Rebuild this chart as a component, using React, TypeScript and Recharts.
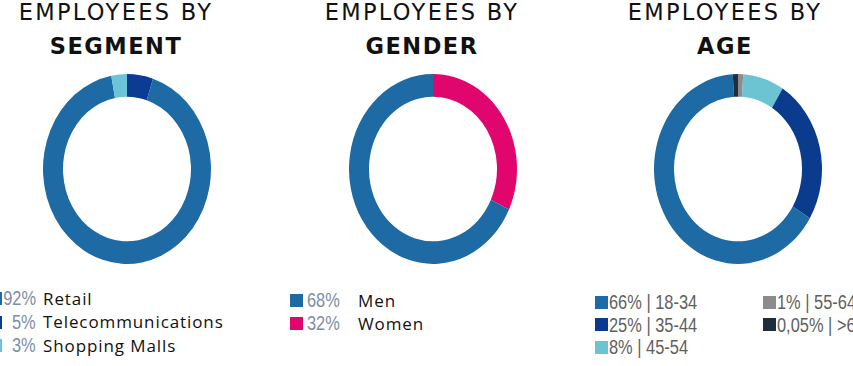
import React from "react";
import { PieChart, Pie, Cell } from "recharts";

const segmentNames = ["Retail", "Telecommunications", "Shopping Malls"];
const segmentValues = [92, 5, 3];
const segmentLabels = ["92%", "5%", "3%"];
const segmentColors = ["#1d6aa5", "#0b3b93", "#6cc4d8"];
const segmentDrawOrder = [1, 0, 2];

const genderNames = ["Men", "Women"];
const genderValues = [68, 32];
const genderLabels = ["68%", "32%"];
const genderColors = ["#1d6aa5", "#e0066e"];
const genderDrawOrder = [1, 0];

const ageNames = ["18-34", "35-44", "45-54", "55-64", ">65"];
const ageValues = [66, 25, 8, 1, 1];
const ageLabels = ["66%", "25%", "8%", "1%", "0,05%"];
const ageColors = ["#1d6aa5", "#0b3b8c", "#6cc4d2", "#8c8c8c", "#1f2e3c"];
const ageDrawOrder = [3, 2, 1, 0, 4];

const titleFont = "'DejaVu Sans', sans-serif";
const labelFont = "'Open Sans', sans-serif";
const pctFont = "'Liberation Sans', Arial, sans-serif";

function Donut({ names, values, colors, order, cx, cy }: any) {
  const data = order.map((i: number) => ({ name: names[i], value: values[i], color: colors[i] }));
  return (
    <div
      style={{
        position: "absolute",
        left: cx - 90,
        top: cy - 90,
        width: 180,
        height: 180,
        transform: "scaleY(1.13)",
        transformOrigin: "center",
      }}
    >
      <PieChart width={180} height={180} margin={{ top: 0, right: 0, bottom: 0, left: 0 }}>
        <Pie
          data={data}
          dataKey="value"
          cx={90}
          cy={90}
          innerRadius={64}
          outerRadius={84}
          startAngle={90}
          endAngle={-270}
          stroke="none"
          isAnimationActive={false}
        >
          {data.map((d: any, i: number) => (
            <Cell key={i} fill={d.color} />
          ))}
        </Pie>
      </PieChart>
    </div>
  );
}

function Title({ cx, line2 }: { cx: number; line2: string }) {
  return (
    <div
      style={{
        position: "absolute",
        left: cx - 150,
        top: -5,
        width: 300,
        textAlign: "center",
        fontFamily: titleFont,
        color: "#111",
        lineHeight: "34px",
      }}
    >
      <div style={{ fontSize: 22.5, letterSpacing: 2.3 }}>EMPLOYEES BY</div>
      <div style={{ fontSize: 22.5, fontWeight: 700, letterSpacing: 1.5 }}>{line2}</div>
    </div>
  );
}

function Narrow({ children, color, origin, size, style }: any) {
  return (
    <span
      style={{
        display: "inline-block",
        fontFamily: pctFont,
        fontSize: size,
        color,
        transform: "scaleX(0.8)",
        transformOrigin: origin,
        whiteSpace: "nowrap",
        ...style,
      }}
    >
      {children}
    </span>
  );
}

export default function App() {
  return (
    <div
      style={{
        position: "absolute",
        left: 0,
        top: 0,
        width: 853,
        height: 366,
        overflow: "hidden",
        background: "#fff",
      }}
    >
      <Title cx={116} line2="SEGMENT" />
      <Title cx={422} line2="GENDER" />
      <Title cx={725} line2="AGE" />

      <Donut names={segmentNames} values={segmentValues} colors={segmentColors} order={segmentDrawOrder} cx={126.5} cy={168.5} />
      <Donut names={genderNames} values={genderValues} colors={genderColors} order={genderDrawOrder} cx={432.5} cy={168.5} />
      <Donut names={ageNames} values={ageValues} colors={ageColors} order={ageDrawOrder} cx={737.5} cy={168.5} />

      {/* Segment legend */}
      {segmentNames.map((n, i) => (
        <div key={n} style={{ position: "absolute", left: 0, top: 287 + i * 23.5, height: 22, display: "flex", alignItems: "center" }}>
          <div style={{ position: "absolute", left: -8, top: 5, width: 10, height: 13, background: segmentColors[i] }} />
          <div style={{ position: "relative", width: 36, height: 22 }}>
            <Narrow color="#7d8ea6" origin="right" size={20.5} style={{ position: "absolute", right: 0, top: -1 }}>
              {segmentLabels[i]}
            </Narrow>
          </div>
          <div style={{ marginLeft: 7, fontFamily: labelFont, fontSize: 17, color: "#111", letterSpacing: 0.9 }}>{n}</div>
        </div>
      ))}

      {/* Gender legend */}
      {genderNames.map((n, i) => (
        <div key={n} style={{ position: "absolute", left: 290, top: 289 + i * 23, height: 22, display: "flex", alignItems: "center" }}>
          <div style={{ width: 13, height: 13, background: genderColors[i] }} />
          <div style={{ marginLeft: 4, width: 49 }}>
            <Narrow color="#7d8ea6" origin="left" size={20.5}>{genderLabels[i]}</Narrow>
          </div>
          <div style={{ marginLeft: 2, fontFamily: labelFont, fontSize: 17, color: "#111", letterSpacing: 0.9 }}>{n}</div>
        </div>
      ))}

      {/* Age legend */}
      {ageNames.map((n, i) => {
        const col = i < 3 ? 0 : 1;
        const row = i < 3 ? i : i - 3;
        return (
          <div key={n} style={{ position: "absolute", left: col === 0 ? 595 : 763, top: 291 + row * 22.5, height: 22, display: "flex", alignItems: "center", whiteSpace: "nowrap" }}>
            <div style={{ width: 13, height: 13, background: ageColors[i] }} />
            <div style={{ marginLeft: 1 }}>
              <Narrow color="#5f5f5f" origin="left" size={20.5}>
                {ageLabels[i]} | {n}
              </Narrow>
            </div>
          </div>
        );
      })}
    </div>
  );
}
